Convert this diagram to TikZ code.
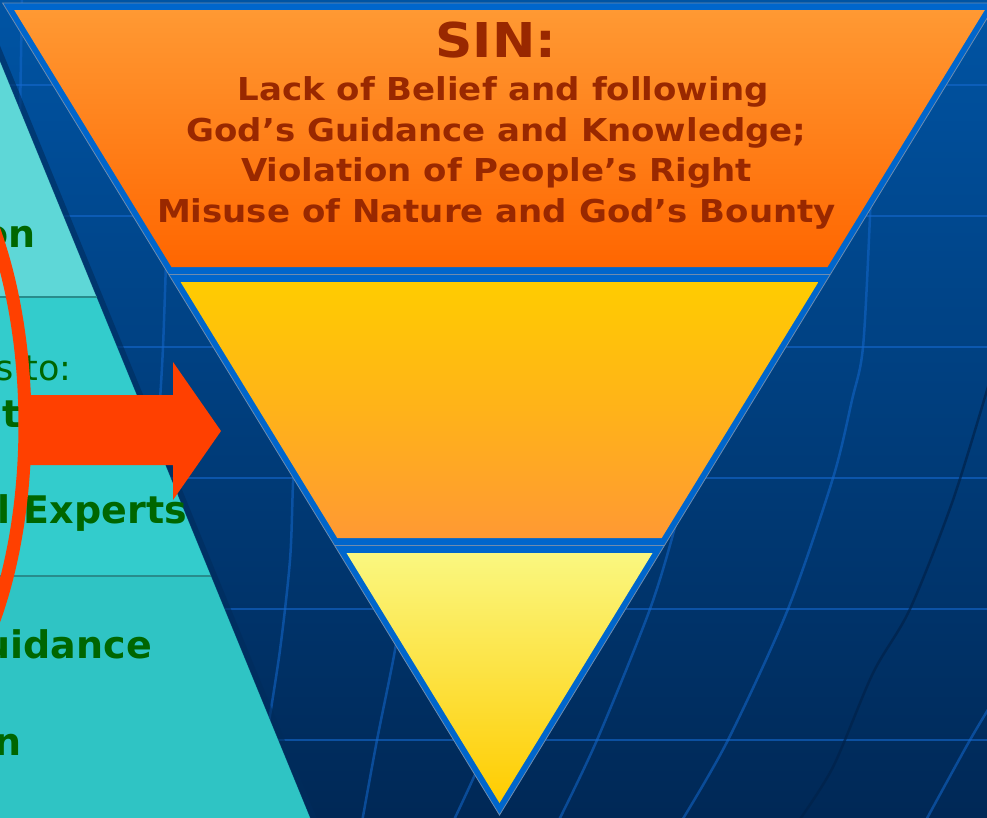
\documentclass[tikz,border=0pt]{standalone}
\usepackage{fontspec}
\setmainfont{DejaVu Sans}
\newfontfamily\trifont[FakeStretch=1.08]{DejaVu Sans}
\newfontfamily\grnfont{DejaVu Sans}
\definecolor{bgtop}{RGB}{0,84,164}
\definecolor{bgbot}{RGB}{0,40,86}
\definecolor{gridblue}{RGB}{20,104,205}
\definecolor{darkline}{RGB}{0,34,74}
\definecolor{tblue}{RGB}{0,102,204}
\definecolor{tgray}{RGB}{110,140,175}
\definecolor{orA}{RGB}{255,153,51}
\definecolor{orB}{RGB}{255,102,0}
\definecolor{ylA}{RGB}{255,204,0}
\definecolor{ylB}{RGB}{255,153,51}
\definecolor{lyA}{RGB}{250,247,128}
\definecolor{lyB}{RGB}{255,204,0}
\definecolor{sintext}{RGB}{153,40,0}
\definecolor{cyA}{RGB}{94,215,215}
\definecolor{cyB}{RGB}{51,204,204}
\definecolor{cyC}{RGB}{47,196,196}
\definecolor{cysep}{RGB}{40,140,140}
\definecolor{cyedge}{RGB}{0,44,92}
\definecolor{grn}{RGB}{0,102,0}
\definecolor{redar}{RGB}{255,64,0}
\tikzset{
  gridln/.style={draw=gridblue,opacity=0.6,line width=2.5pt},
  gridcurve/.style={draw=gridblue,opacity=0.55,line width=2.5pt},
  darkcurve/.style={draw=darkline,opacity=0.7,line width=2.5pt},
  tritext/.style={inner sep=0pt,anchor=base,text=sintext,font=\trifont\bfseries\fontsize{31.5}{40}\selectfont},
  grntext/.style={inner sep=0pt,anchor=base east,text=grn,font=\grnfont\bfseries\fontsize{38}{44}\selectfont},
  grnreg/.style={inner sep=0pt,anchor=base east,text=grn,font=\grnfont\fontsize{35}{44}\selectfont},
}
\begin{document}
\begin{tikzpicture}[x=1pt,y=-1pt]
\useasboundingbox (0,0) rectangle (987,817);
\begin{scope}
\clip (0,0) rectangle (987,817);
% background
\shade[top color=bgtop,bottom color=bgbot] (0,0) rectangle (987,817);
% horizontal grid lines
\foreach \yy in {85,216,347,478,609,740}{
  \draw[gridln] (0,\yy) -- (987,\yy);
}
% meridians
\draw[gridcurve] plot[smooth] coordinates {(22,-5) (20,120) (19,200)};
\draw[gridcurve] plot[smooth] coordinates {(168,200) (163,347) (158,430)};
\draw[gridcurve] plot[smooth] coordinates {(297,380) (293,483) (290,560) (280,650) (266,740)};
\draw[gridcurve] plot[smooth] coordinates {(405,580) (395,650) (377,740) (362,822)};
\draw[gridcurve] plot[smooth] coordinates {(492,730) (477,770) (453,822)};
\draw[gridcurve] plot[smooth] coordinates {(700,430) (677,520) (650,609) (597,740) (558,822)};
\draw[gridcurve] plot[smooth] coordinates {(872,150) (870,216) (863,347) (852,400) (833,478) (788,609) (728,740) (681,822)};
\draw[darkcurve] plot[smooth] coordinates {(990,380) (953,500) (910,609) (873,673) (833,767) (798,822)};
\draw[gridcurve] plot[smooth] coordinates {(1000,690) (970,740) (925,822)};
% cyan pyramid (left)
\fill[cyA] (-30,-12.2) -- (96.8,297) -- (-30,297) -- cycle;
\fill[cyB] (-30,297) -- (96.8,297) -- (211.2,576) -- (-30,576) -- cycle;
\fill[cyC] (-30,576) -- (211.2,576) -- (315.3,830) -- (-30,830) -- cycle;
\draw[cyedge,line width=6pt,opacity=0.6] (-27,-12.2) -- (318.3,830);
\draw[cysep,line width=2.5pt] (-30,297) -- (96.8,297);
\draw[cysep,line width=2.5pt] (-30,576) -- (211.2,576);
% left texts
\node[grntext] (t1) at (36,247) {on};
\node[grnreg] (t2) at (72,380) {s to:};
\node[grntext] (t3) at (21,427) {it};
\node[grntext] (t4) at (4,470) {:};
\node[grntext] (t5) at (187,523) {l Experts};
\node[grntext] (t6) at (152,658) {uidance};
\node[grntext] (t7) at (22,755) {n};
% arrow
\fill[redar] (28,395) -- (173,395) -- (173,362) -- (221,431) -- (173,500) -- (173,465) -- (28,465) -- cycle;
% ring
\draw[redar,line width=13pt] (-125,425) ellipse [x radius=150,y radius=320];
% inverted triangle
\fill[tblue] (2.6,3) -- (996.4,3) -- (499.5,815) -- cycle;
\draw[tgray,line width=0.8pt] (2.6,3) -- (996.4,3) -- (499.5,815) -- cycle;
\draw[tgray,line width=0.8pt] (168.7,274.5) -- (830.3,274.5);
\draw[tgray,line width=0.8pt] (334.6,545.5) -- (664.4,545.5);
\shade[top color=orA,bottom color=orB] (14.2,10) -- (984.8,10) -- (827.5,267) -- (171.5,267) -- cycle;
\shade[top color=ylA,bottom color=ylB] (180.6,282) -- (818.4,282) -- (661.7,538) -- (337.3,538) -- cycle;
\shade[top color=lyA,bottom color=lyB] (346.5,553) -- (652.5,553) -- (499.5,803) -- cycle;
% texts in top band
\node[tritext,font=\trifont\bfseries\fontsize{48}{50}\selectfont] (sin) at (496,57) {SIN:};
\node[tritext] (l1) at (503,100.5) {Lack of Belief and following};
\node[tritext] (l2) at (496.5,141) {God’s Guidance and Knowledge;};
\node[tritext] (l3) at (496.5,181.5) {Violation of People’s Right};
\node[tritext] (l4) at (496.5,222.5) {Misuse of Nature and God’s Bounty};
\end{scope}
\end{tikzpicture}
\end{document}
